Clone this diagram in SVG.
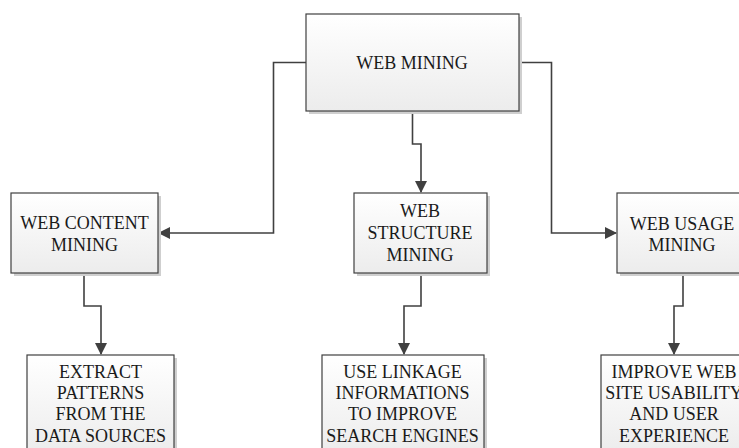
<svg xmlns="http://www.w3.org/2000/svg" width="739" height="448" viewBox="0 0 739 448">
<defs>
<linearGradient id="g" x1="0" y1="0" x2="0" y2="1">
<stop offset="0" stop-color="#ffffff"/>
<stop offset="1" stop-color="#ececec"/>
</linearGradient>
<marker id="arr" viewBox="0 0 12 12" markerWidth="12" markerHeight="12" refX="11" refY="6" orient="auto" markerUnits="userSpaceOnUse">
<path d="M0,0 L12,6 L0,12 z" fill="#404040"/>
</marker>
</defs>
<style>
.shadow{fill:#cfcfcf;}
.box{fill:url(#g);stroke:#404040;stroke-width:1.2;}
.lbl{font-family:"Liberation Serif","Times New Roman",serif;font-size:18px;fill:#1a1a1a;text-anchor:middle;}
.conn{fill:none;stroke:#404040;stroke-width:1.6;marker-end:url(#arr);}
</style>
<rect width="739" height="448" fill="#ffffff"/>
<g id="connectors">
<polyline class="conn" points="306,62.5 273.5,62.5 273.5,233 159,233"/>
<polyline class="conn" points="519,62.5 551.5,62.5 551.5,233 616,233"/>
<polyline class="conn" points="412.5,111 412.5,144 421,144 421,192"/>
<polyline class="conn" points="84,273 84,306 101,306 101,354"/>
<polyline class="conn" points="421,273 421,306 404,306 404,354"/>
<polyline class="conn" points="683,273 683,306 674,306 674,354"/>
</g>
<g id="web-mining">
<rect class="shadow" x="309" y="17" width="213" height="97"/>
<rect class="box" x="306" y="14" width="213" height="97"/>
<text class="lbl" x="412" y="69">WEB MINING</text>
</g>
<g id="web-content-mining">
<rect class="shadow" x="14" y="196" width="147" height="80"/>
<rect class="box" x="11" y="193" width="147" height="80"/>
<text class="lbl" x="84.5" y="229">WEB CONTENT</text>
<text class="lbl" x="84.5" y="250.5">MINING</text>
</g>
<g id="web-structure-mining">
<rect class="shadow" x="357" y="196" width="133" height="80"/>
<rect class="box" x="354" y="193" width="133" height="80"/>
<text class="lbl" x="420" y="217">WEB</text>
<text class="lbl" x="420" y="239">STRUCTURE</text>
<text class="lbl" x="420" y="261">MINING</text>
</g>
<g id="web-usage-mining">
<rect class="shadow" x="620" y="196" width="132" height="80"/>
<rect class="box" x="617" y="193" width="132" height="80"/>
<text class="lbl" x="682" y="230">WEB USAGE</text>
<text class="lbl" x="682" y="251">MINING</text>
</g>
<g id="extract-patterns">
<rect class="shadow" x="30" y="358" width="147" height="100"/>
<rect class="box" x="27" y="355" width="147" height="100"/>
<text class="lbl" x="100.5" y="377.5">EXTRACT</text>
<text class="lbl" x="100.5" y="398.5">PATTERNS</text>
<text class="lbl" x="100.5" y="420">FROM THE</text>
<text class="lbl" x="100.5" y="441.5">DATA SOURCES</text>
</g>
<g id="use-linkage">
<rect class="shadow" x="325" y="358" width="162" height="100"/>
<rect class="box" x="322" y="355" width="162" height="100"/>
<text class="lbl" x="402.5" y="377.5">USE LINKAGE</text>
<text class="lbl" x="402.5" y="398.5">INFORMATIONS</text>
<text class="lbl" x="402.5" y="420">TO IMPROVE</text>
<text class="lbl" x="402.5" y="441.5">SEARCH ENGINES</text>
</g>
<g id="improve-web-site">
<rect class="shadow" x="604" y="358" width="146" height="100"/>
<rect class="box" x="601" y="355" width="146" height="100"/>
<text class="lbl" x="674" y="377.5">IMPROVE WEB</text>
<text class="lbl" x="674" y="398.5">SITE USABILITY</text>
<text class="lbl" x="674" y="420">AND USER</text>
<text class="lbl" x="674" y="441.5">EXPERIENCE</text>
</g>
</svg>
